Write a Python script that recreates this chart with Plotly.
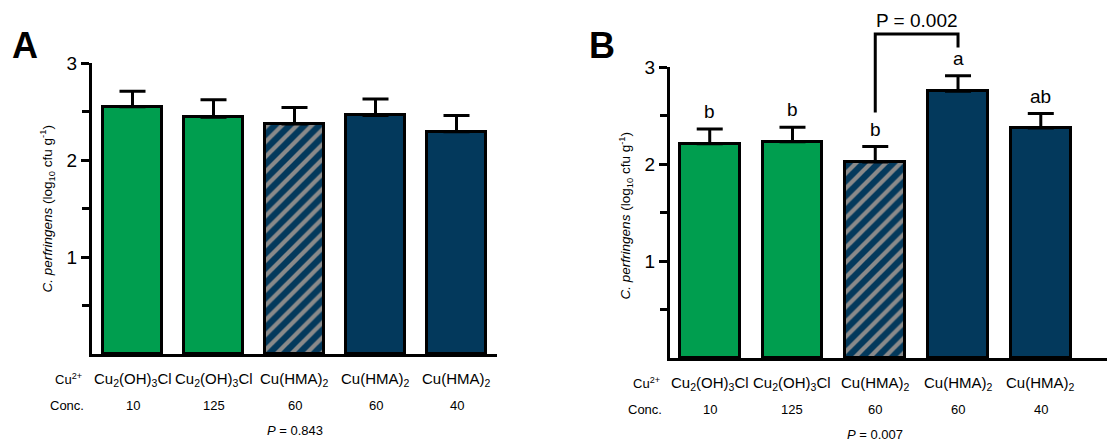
import plotly.graph_objects as go

# ---------------- data ----------------
compounds = ["Cu<sub>2</sub>(OH)<sub>3</sub>Cl", "Cu<sub>2</sub>(OH)<sub>3</sub>Cl",
             "Cu(HMA)<sub>2</sub>", "Cu(HMA)<sub>2</sub>", "Cu(HMA)<sub>2</sub>"]
conc = ["10", "125", "60", "60", "40"]
a_mean = [2.55, 2.44, 2.37, 2.46, 2.29]
a_err = [0.16, 0.18, 0.17, 0.17, 0.17]
b_mean = [2.21, 2.23, 2.02, 2.75, 2.37]
b_err = [0.15, 0.15, 0.16, 0.16, 0.15]
b_letters = ["b", "b", "b", "a", "ab"]
p_a = "0.843"
p_b = "0.007"
p_pair = "P = 0.002"
pair = (2, 3)

GREEN = "#009E4F"
NAVY = "#03395C"
GRAY = "#8A8A8A"
fills = [GREEN, GREEN, NAVY, NAVY, NAVY]
hatched = [False, False, True, False, False]

FONT = "Arial, Liberation Sans, sans-serif"

W, H = 1107, 445
xs = list(range(len(conc)))

# domains (paper fractions)
dom_ax = [92 / W, 497 / W]
dom_ay = [1 - 354 / H, 1 - 63 / H]
dom_bx = [670 / W, 1.0]
dom_by = [1 - 358 / H, 1 - 67 / H]
YR = [0, 3]


def y2paper_b(v):
    return dom_by[0] + (v - YR[0]) / (YR[1] - YR[0]) * (dom_by[1] - dom_by[0])


fig = go.Figure()


def add_bars(means, errs, xa, ya):
    for i in xs:
        marker = dict(color=fills[i], line=dict(color="black", width=3))
        if hatched[i]:
            marker["pattern"] = dict(shape="/", fillmode="overlay",
                                     fgcolor=GRAY, fgopacity=1,
                                     size=10.5, solidity=0.4)
        fig.add_trace(go.Bar(
            x=[xs[i]], y=[means[i]], width=0.72, xaxis=xa, yaxis=ya,
            marker=marker,
            error_y=dict(type="data", symmetric=False, array=[errs[i]],
                         arrayminus=[0], color="black",
                         thickness=3, width=13),
            showlegend=False, hoverinfo="skip"))


add_bars(a_mean, a_err, "x", "y")
add_bars(b_mean, b_err, "x2", "y2")

axis_common = dict(showline=True, linecolor="black", linewidth=3,
                   showgrid=False, zeroline=False, automargin=False)
yaxis_common = dict(range=YR, tickvals=[1, 2, 3], ticks="outside", ticklen=8,
                    tickwidth=2.5, tickcolor="black",
                    tickfont=dict(size=19, family=FONT),
                    minor=dict(tick0=0.5, dtick=1, ticks="outside", ticklen=7,
                               tickwidth=2.5, tickcolor="black"))

fig.update_layout(
    width=W, height=H, margin=dict(l=0, r=0, t=0, b=0, pad=0, autoexpand=False),
    paper_bgcolor="white", plot_bgcolor="white",
    font=dict(family=FONT, color="black"),
    bargap=0, barmode="overlay",
    xaxis=dict(domain=dom_ax, range=[-0.5, 4.5], anchor="y",
               showticklabels=False, ticks="", **axis_common),
    yaxis=dict(domain=dom_ay, anchor="x", **yaxis_common, **axis_common),
    xaxis2=dict(domain=dom_bx, range=[-0.48, 4.8], anchor="y2",
                showticklabels=False, ticks="", **axis_common),
    yaxis2=dict(domain=dom_by, anchor="x2", **yaxis_common, **axis_common),
)

ann = []
ytitle = "<i>C. perfringens</i> (log<sub>10</sub> cfu g<sup>-1</sup>)"
for xa, ya, pval, ytc in (("x", "y", p_a, 0.5), ("x2", "y2", p_b, 0.49)):
    xd = xa + " domain"
    yd = ya + " domain"
    # y title
    ann.append(dict(text=ytitle, xref=xd, yref=yd, x=0, y=ytc, xshift=-44,
                    textangle=-90, showarrow=False, xanchor="center",
                    yanchor="middle", font=dict(size=13.5)))
    # row headers
    ann.append(dict(text="Cu<sup>2+</sup>", xref=xd, yref=ya, x=0, y=0,
                    xshift=-24, yshift=-25, showarrow=False,
                    xanchor="center", yanchor="middle", font=dict(size=13)))
    ann.append(dict(text="Conc.", xref=xd, yref=ya, x=0, y=0,
                    xshift=-25, yshift=-51, showarrow=False,
                    xanchor="center", yanchor="middle", font=dict(size=13)))
    for i in xs:
        ann.append(dict(text=compounds[i], xref=xa, yref=ya, x=i, y=0,
                        yshift=-25, showarrow=False, xanchor="center",
                        yanchor="middle", font=dict(size=15)))
        ann.append(dict(text=conc[i], xref=xa, yref=ya, x=i, y=0,
                        yshift=-51, showarrow=False, xanchor="center",
                        yanchor="middle", font=dict(size=13)))
    ann.append(dict(text="<i>P</i> = " + pval, xref=xa, yref=ya, x=2, y=0,
                    yshift=-76, showarrow=False, xanchor="center",
                    yanchor="middle", font=dict(size=13)))

# letters in B
for i in xs:
    ann.append(dict(text=b_letters[i], xref="x2", yref="y2", x=i,
                    y=b_mean[i] + b_err[i], yshift=5, xanchor="center",
                    yanchor="bottom", showarrow=False, font=dict(size=19)))

# panel letters
ann.append(dict(text="<b>A</b>", xref="paper", yref="paper", x=25 / W,
                y=1 - 45 / H, xanchor="center", yanchor="middle",
                showarrow=False, font=dict(size=36)))
ann.append(dict(text="<b>B</b>", xref="paper", yref="paper", x=602 / W,
                y=1 - 45 / H, xanchor="center", yanchor="middle",
                showarrow=False, font=dict(size=36)))

# bracket between pair
br_low_l, br_top, br_low_r = 2.53, 3.34, 3.2
fig.add_shape(type="path", xref="x2", yref="paper",
              path=(f"M {pair[0]},{y2paper_b(br_low_l)} L {pair[0]},{y2paper_b(br_top)} "
                    f"L {pair[1]},{y2paper_b(br_top)} L {pair[1]},{y2paper_b(br_low_r)}"),
              line=dict(color="black", width=3))
ann.append(dict(text=p_pair, xref="x2", yref="paper", x=(pair[0] + pair[1]) / 2,
                y=y2paper_b(br_top), yshift=1, xanchor="center", yanchor="bottom",
                showarrow=False, font=dict(size=19)))

fig.update_layout(annotations=ann)
fig.write_html("out.html")
